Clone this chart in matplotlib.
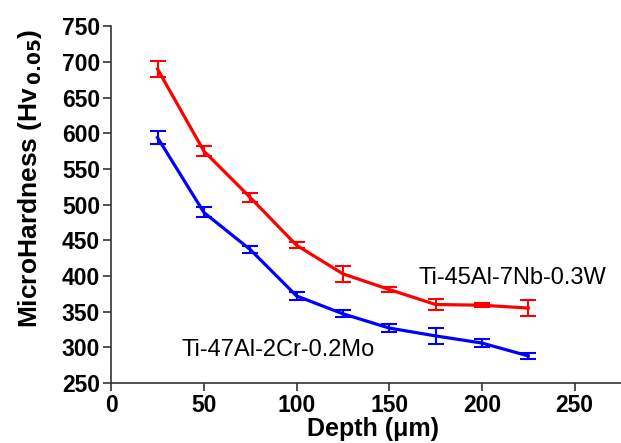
import matplotlib
matplotlib.use("Agg")
from matplotlib import pyplot as plt

depth = [25, 50, 75, 100, 125, 150, 175, 200, 225]

nb_w = [690, 575, 510, 443, 403, 381, 360, 359, 355]     # Ti-45Al-7Nb-0.3W
nb_w_err = [11, 7, 6, 4, 11, 4, 8, 3, 11]

cr_mo = [594, 489, 437, 372, 347, 327, 316, 306, 288]     # Ti-47Al-2Cr-0.2Mo
cr_mo_err = [9, 7, 5, 6, 5, 5, 11, 5, 4]

yticks = list(range(250, 751, 50))
xticks = [0, 50, 100, 150, 200, 250]

plt.rcParams['font.family'] = ['Liberation Sans', 'DejaVu Sans']

fig = plt.figure(figsize=(6.21, 4.43), dpi=100)
ax = fig.add_axes([0.179, 0.1354, 0.821, 0.8056])

ax.errorbar(depth, nb_w, yerr=nb_w_err, color='#ff0000', lw=2.3,
            capsize=6, capthick=1.5, elinewidth=1.5)
ax.errorbar(depth, cr_mo, yerr=cr_mo_err, color='#0000ff', lw=2.3,
            capsize=6, capthick=1.5, elinewidth=1.5)

ax.text(166, 397, 'Ti-45Al-7Nb-0.3W', fontsize=17, va='center')
ax.text(38, 296, 'Ti-47Al-2Cr-0.2Mo', fontsize=17, va='center')

ax.set_xlim(0, 275)
ax.set_ylim(250, 750)
ax.set_xticks(xticks)
ax.set_yticks(yticks)
for s in ['top', 'right']:
    ax.spines[s].set_visible(False)
for s in ['left', 'bottom']:
    ax.spines[s].set_linewidth(1.2)
    ax.spines[s].set_color('#333333')
ax.tick_params(direction='out', length=6, width=1.2, color='#333333',
               labelsize=16.5, pad=2)
for lab in ax.get_xticklabels() + ax.get_yticklabels():
    lab.set_fontweight('bold')

ax.set_xlabel('Depth (μm)', fontsize=18, fontweight='bold', va='center')
ax.xaxis.set_label_coords(0.514, -0.13)
ax.set_ylabel('MicroHardness (Hv$_{\\,\\mathbf{0.05}}$)', fontsize=19,
              fontweight='bold', va='center')
ax.yaxis.set_label_coords(-0.159, 0.575)

fig.savefig('out.png', dpi=100)
